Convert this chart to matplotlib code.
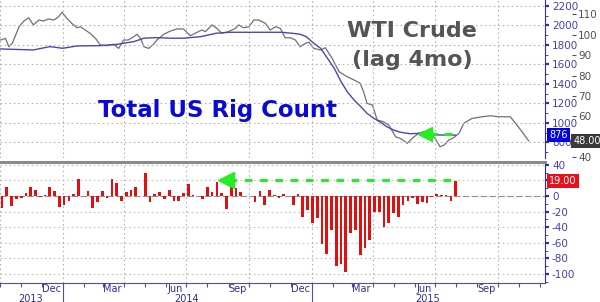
import pandas as pd
import matplotlib
matplotlib.use('Agg')
import matplotlib.pyplot as plt
import matplotlib.dates as mdates
import matplotlib.transforms as mtrans

plt.rcParams['font.family'] = 'DejaVu Sans'
plt.rcParams['axes.unicode_minus'] = False

# weekly change in total US rig count (Fridays, from 2013-10-04)
first_week = '2013-10-04'
rig_change = [-16, 12, -13, -4, -2, 4, 12, 8, -1, 1, 12, 6, -14, -11, -6, 2,
              22, 0, 7, -15, -8, 6, -2, 22, 17, -6, 5, 8, 12, 0, 29, -8,
              2, 5, -4, 8, -6, -6, 4, 15, 1, 0, -4, 12, 5, 18, 4, -17,
              12, 10, 5, 0, 0, -8, 7, -12, 8, 1, -3, 2, 0, -12, 2, -27,
              -18, -35, -28, -61, -74, -43, -90, -87, -98, -48, -44, -75, -67, -56, -20, -20,
              -40, -34, -22, -27, -12, -7, -3, -10, -8, -9, -1, 2, 1, 1, -6, 19]

# total US rig count (level)
rig_dates = ['2013-10-02', '2013-11-19', '2013-12-13', '2014-01-01', '2014-01-22',
             '2014-02-25', '2014-03-22', '2014-04-15', '2014-04-30', '2014-05-17',
             '2014-06-08', '2014-06-27', '2014-07-22', '2014-08-14', '2014-09-02',
             '2014-10-01', '2014-10-26', '2014-11-18', '2014-12-03', '2014-12-15',
             '2014-12-24', '2015-01-04', '2015-01-14', '2015-01-24', '2015-02-03',
             '2015-02-13', '2015-02-22', '2015-03-04', '2015-03-14', '2015-03-23',
             '2015-04-02', '2015-04-12', '2015-04-21', '2015-05-01', '2015-05-11',
             '2015-05-25', '2015-06-09', '2015-07-01', '2015-07-31']
rig_count = [1759, 1749, 1783, 1766, 1790, 1793, 1807, 1834, 1869, 1875,
             1869, 1869, 1885, 1920, 1930, 1930, 1930, 1930, 1920, 1910,
             1885, 1817, 1766, 1664, 1561, 1424, 1321, 1236, 1167, 1099,
             1048, 1007, 962, 928, 905, 890, 894, 877, 876]

# WTI crude, shifted forward 4 months
wti_dates = ['2013-10-02', '2013-10-09', '2013-10-14', '2013-10-19', '2013-10-29',
             '2013-11-05', '2013-11-12', '2013-11-19', '2013-11-27', '2013-12-04',
             '2013-12-11', '2013-12-19', '2013-12-26', '2013-12-31', '2014-01-07',
             '2014-01-14', '2014-01-22', '2014-01-27', '2014-02-03', '2014-02-10',
             '2014-02-18', '2014-02-25', '2014-03-07', '2014-03-16', '2014-03-24',
             '2014-03-31', '2014-04-07', '2014-04-15', '2014-04-20', '2014-04-25',
             '2014-04-30', '2014-05-07', '2014-05-14', '2014-05-19', '2014-05-29',
             '2014-06-08', '2014-06-17', '2014-06-27', '2014-07-07', '2014-07-17',
             '2014-07-24', '2014-07-29', '2014-08-08', '2014-08-15', '2014-08-22',
             '2014-09-01', '2014-09-11', '2014-09-16', '2014-09-23', '2014-10-01',
             '2014-10-08', '2014-10-15', '2014-10-25', '2014-11-01', '2014-11-09',
             '2014-11-16', '2014-11-23', '2014-12-01', '2014-12-08', '2014-12-15',
             '2014-12-23', '2014-12-28', '2015-01-04', '2015-01-14', '2015-01-21',
             '2015-01-31', '2015-02-10', '2015-02-22', '2015-03-04', '2015-03-13',
             '2015-03-18', '2015-03-23', '2015-03-31', '2015-04-07', '2015-04-16',
             '2015-04-24', '2015-05-04', '2015-05-11', '2015-05-21', '2015-05-31',
             '2015-06-07', '2015-06-14', '2015-06-24', '2015-07-01', '2015-07-08',
             '2015-07-14', '2015-07-21', '2015-07-28', '2015-08-05', '2015-08-12',
             '2015-08-24', '2015-09-08', '2015-09-20', '2015-10-02', '2015-10-19',
             '2015-10-29', '2015-11-07', '2015-11-15']
wti_price = [97.4, 98.2, 94.1, 95.8, 103.9, 106.7, 108.3, 104.8, 107.2, 106.7,
             107.7, 107.2, 108.8, 111.0, 108.0, 105.6, 103.4, 103.9, 102.3, 100.7,
             98.2, 95.0, 94.6, 95.3, 93.3, 97.4, 97.4, 99.0, 100.2, 98.2,
             94.1, 93.3, 95.3, 97.4, 100.2, 101.8, 102.8, 102.8, 99.5, 101.2,
             102.3, 101.5, 104.8, 103.1, 100.7, 101.5, 103.1, 104.8, 103.4, 103.9,
             107.2, 107.2, 105.6, 102.3, 103.9, 103.1, 98.5, 98.5, 97.4, 94.1,
             95.8, 96.3, 93.3, 92.5, 93.6, 88.4, 81.9, 79.4, 77.8, 76.2,
             72.1, 66.4, 65.5, 58.2, 57.4, 55.7, 50.0, 49.2, 46.8, 50.0,
             51.7, 52.5, 51.3, 49.2, 45.1, 45.9, 48.4, 49.5, 51.7, 56.6,
             59.0, 59.8, 60.3, 59.8, 59.8, 55.7, 51.7, 48.0]

month_ticks = ['2013-12-15', '2014-03-15', '2014-06-15', '2014-09-15',
               '2014-12-15', '2015-03-15', '2015-06-15', '2015-09-15']
year_labels = ['2013', '2014', '2015']
year_pos = ['2013-11-15', '2014-07-01', '2015-06-20']

rig_ticks = list(range(800, 2201, 200))
wti_ticks = list(range(40, 111, 10))
chg_ticks = list(range(-100, 41, 20))

week_dates = pd.date_range(first_week, periods=len(rig_change), freq='7D')
quarters = pd.date_range('2013-10-01', '2015-10-01', freq='QS')
x0, x1 = pd.Timestamp('2013-10-01'), pd.Timestamp('2015-12-09')

axis_blue = '#3030a0'
lab_blue = '#4040b8'
grid_c = '#b4b4b4'
green = '#22ee22'

fig = plt.figure(figsize=(6, 3.02), dpi=100)
ax_top = fig.add_axes([0, 144 / 302, 545 / 600, 158 / 302])
ax_bot = fig.add_axes([0, 19 / 302, 545 / 600, 121 / 302])
ax_wti = ax_top.twinx()

# ---- top panel: rig count vs lagged WTI
ax_top.plot(pd.to_datetime(rig_dates), rig_count, color='#4848b0', lw=1, zorder=3)
ax_wti.plot(pd.to_datetime(wti_dates), wti_price, color='#707070', lw=0.9, zorder=2)
ax_top.set_zorder(ax_wti.get_zorder() + 1)
ax_top.patch.set_visible(False)

ax_top.set_xlim(x0, x1)
ax_top.set_ylim(641, 2261)
ax_wti.set_ylim(39.6, 117)

for sp in ['left', 'top', 'bottom']:
    ax_top.spines[sp].set_visible(False)
    ax_wti.spines[sp].set_visible(False)
ax_top.spines['right'].set_color(axis_blue)
ax_wti.spines['right'].set_position(('axes', 572 / 545))
ax_wti.spines['right'].set_visible(False)

ax_top.yaxis.tick_right()
ax_top.set_yticks(rig_ticks)
ax_top.set_yticks(range(700, 2201, 100), minor=True)
ax_top.tick_params(axis='y', which='major', colors=axis_blue, labelcolor=lab_blue,
                   length=3, width=1.6, pad=2, labelsize=7.5)
ax_top.tick_params(axis='y', which='minor', colors=axis_blue, length=2, width=0.6)
ax_top.tick_params(axis='x', which='both', length=0, labelbottom=False)
ax_top.set_xticks(quarters)
ax_top.grid(axis='both', which='major', color=grid_c, ls=(0, (1.5, 2.5)), lw=0.8)

# the last-value tag hides the 50 label
ax_wti.set_yticks(wti_ticks)
ax_wti.set_yticklabels(['' if v == 50 else str(v) for v in wti_ticks])
ax_wti.tick_params(axis='y', colors='#505050', length=3, width=0.8, pad=1.5, labelsize=7.5)

# ---- bottom panel: weekly change
ax_bot.bar(week_dates, rig_change, width=4, color='#e01010', zorder=3)
ax_bot.set_xlim(x0, x1)
ax_bot.set_ylim(-111.5, 43.6)
ax_bot.axhline(0, color='#909090', lw=0.8, ls=(0, (6, 2)), zorder=2)
for v in chg_ticks:
    if v != 0:
        ax_bot.axhline(v, color='#c8c4a8', lw=0.8, ls=(0, (1.5, 2.5)), zorder=1)
for q in quarters:
    ax_bot.axvline(q, color=grid_c, lw=0.8, ls=(0, (1.5, 2.5)), zorder=1)

ax_bot.spines['left'].set_visible(False)
ax_bot.spines['top'].set_color('#8a8a8a')
ax_bot.spines['top'].set_linewidth(2.2)
ax_bot.spines['right'].set_color(axis_blue)
ax_bot.spines['bottom'].set_color('#5050a0')

ax_bot.yaxis.tick_right()
ax_bot.set_yticks(chg_ticks)
ax_bot.set_yticklabels(['' if v == 20 else str(v) for v in chg_ticks])
ax_bot.set_yticks(range(-110, 41, 10), minor=True)
ax_bot.tick_params(axis='y', which='major', colors=axis_blue, labelcolor=lab_blue,
                   length=3, width=1.6, pad=2, labelsize=7.5)
ax_bot.tick_params(axis='y', which='minor', colors=axis_blue, length=2, width=0.6)

ax_bot.set_xticks(pd.to_datetime(month_ticks))
ax_bot.xaxis.set_major_formatter(mdates.DateFormatter('%b'))
ax_bot.xaxis.set_minor_locator(mdates.MonthLocator())
ax_bot.tick_params(axis='x', which='major', length=0, pad=0.5, labelsize=7,
                   labelcolor='#303088')
ax_bot.tick_params(axis='x', which='minor', length=3, color='#5050a0', width=0.8)

xb = mtrans.blended_transform_factory(ax_bot.transData, ax_bot.transAxes)
for y in ['2014-01-01', '2015-01-01']:
    ax_bot.plot([pd.Timestamp(y)] * 2, [0, -0.17], transform=xb, color='#5050a0',
                lw=0.8, clip_on=False)
for lab, pos in zip(year_labels, year_pos):
    ax_bot.text(pd.Timestamp(pos), -0.153, lab, transform=xb, ha='center',
                va='baseline', fontsize=7, color='#303088')

# ---- green arrows
ax_bot.plot([pd.Timestamp('2014-09-01'), week_dates[-1]], [20, 20], color=green,
            lw=2.2, dashes=(2.5, 2.5), solid_capstyle='butt', zorder=4)
ax_bot.plot([pd.Timestamp('2014-08-28')], [20], marker='<', ms=11, color=green,
            mec=green, zorder=5)
ax_top.plot([pd.Timestamp('2015-06-24'), pd.Timestamp('2015-07-30')], [888, 888],
            color=green, lw=2.2, dashes=(2.5, 2.2), solid_capstyle='butt', zorder=4)
ax_top.plot([pd.Timestamp('2015-06-16')], [888], marker='<', ms=10, color=green,
            mec=green, zorder=5)

# ---- annotations
fig.text(412 / 600, 1 - 31 / 302, 'WTI Crude', ha='center', va='center',
         fontsize=16, fontweight='bold', color='#555555')
fig.text(412 / 600, 1 - 60 / 302, '(lag 4mo)', ha='center', va='center',
         fontsize=16, fontweight='bold', color='#555555')
fig.text(98 / 600, 1 - 111 / 302, 'Total US Rig Count', ha='left', va='center',
         fontsize=16.5, fontweight='bold', color='#0a0ad8')

# last value tags
tr_top = mtrans.blended_transform_factory(ax_top.transAxes, ax_top.transData)
tr_wti = mtrans.blended_transform_factory(ax_top.transAxes, ax_wti.transData)
tr_bot = mtrans.blended_transform_factory(ax_bot.transAxes, ax_bot.transData)
fig.text(1.008, rig_count[-1], str(rig_count[-1]), transform=tr_top, ha='left',
         va='center', fontsize=7, color='white', zorder=10,
         bbox=dict(boxstyle='square,pad=0.2', fc='#0000e8', ec='none'))
fig.text(1.052, wti_price[-1], f'{wti_price[-1]:.2f}', transform=tr_wti, ha='left',
         va='center', fontsize=7, color='white', zorder=10,
         bbox=dict(boxstyle='square,pad=0.2', fc='#3a3a3a', ec='none'))
fig.text(1.008, rig_change[-1], f'{rig_change[-1]:.2f}', transform=tr_bot, ha='left',
         va='center', fontsize=7, color='white', zorder=10,
         bbox=dict(boxstyle='square,pad=0.2', fc='#e8101a', ec='none'))

fig.savefig('out.png', dpi=100)
